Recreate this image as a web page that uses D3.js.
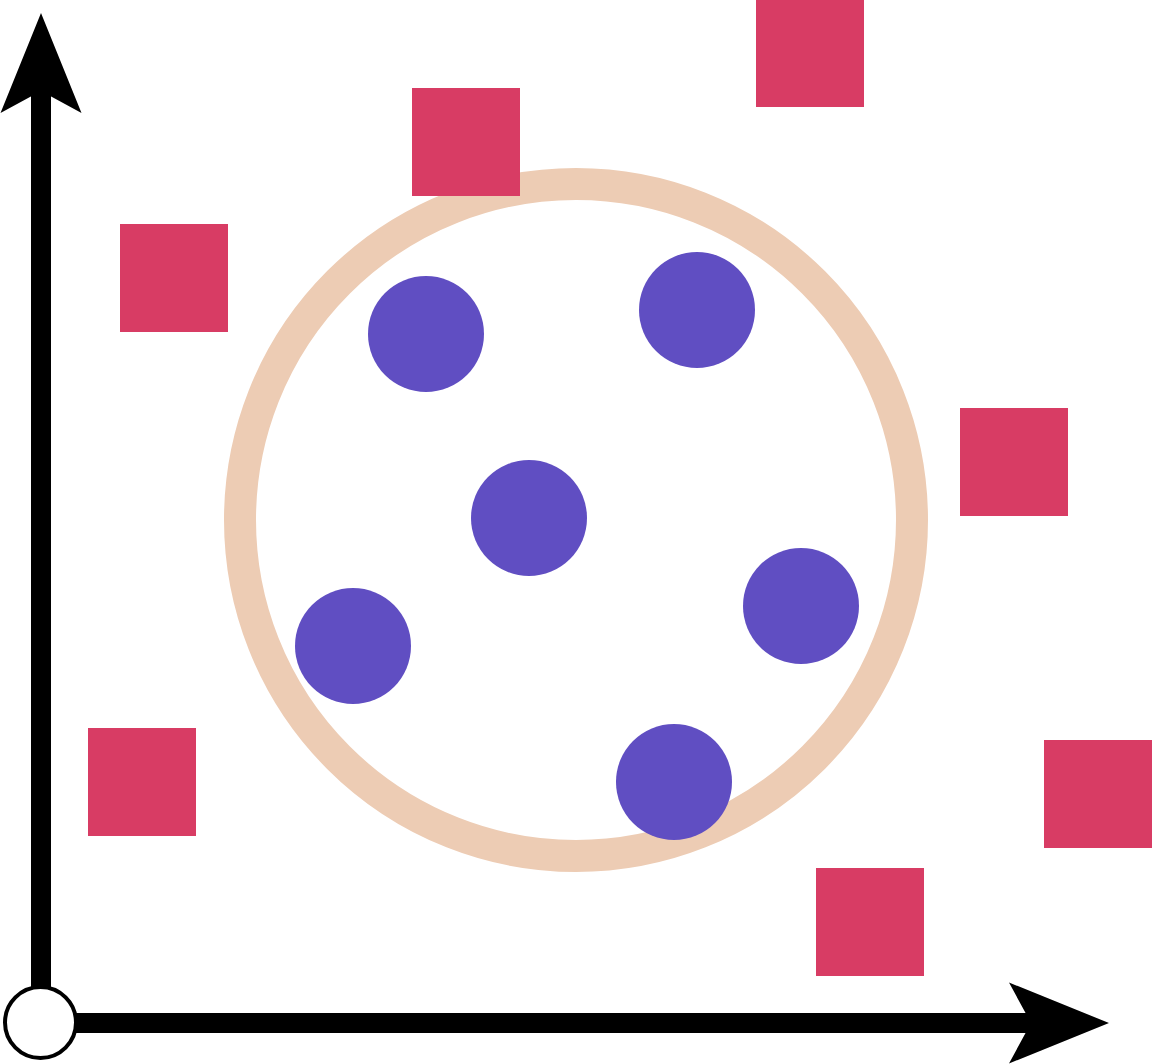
<!DOCTYPE html>
<html>
<head>
<meta charset="utf-8">
<script src="https://cdn.jsdelivr.net/npm/d3@7"></script>
<style>
  html, body { margin: 0; padding: 0; background: #fff; }
  svg { display: block; }
</style>
</head>
<body>
<script>
// values, in axis units (origin at the open circle)
const insideX = [38.5, 65.6, 48.8, 31.2, 76.0, 63.3];
const insideY = [68.9, 71.3, 50.5, 37.7, 41.7, 24.1];
const outsideX = [13.3, 42.5, 76.9, 97.3, 10.1, 105.7, 82.9];
const outsideY = [74.5, 88.1, 97.0, 56.1, 24.1, 22.9, 10.1];
const boundary = [53.5, 50.3, 33.6]; // cx, cy, r
const axisEnd = [106.8, 101];       // x tip, y tip

const width = 1152, height = 1064;

const svg = d3.select('body').append('svg')
    .attr('width', width)
    .attr('height', height);

const x = d3.scaleLinear().domain([0, 100]).range([41, 1041]);
const y = d3.scaleLinear().domain([0, 100]).range([1023, 23]);
const k = x(1) - x(0);

const inside = insideX.map((v, i) => ({x: v, y: insideY[i]}));
const outside = outsideX.map((v, i) => ({x: v, y: outsideY[i]}));

// boundary ring
svg.append('circle')
    .attr('cx', x(boundary[0]))
    .attr('cy', y(boundary[1]))
    .attr('r', boundary[2] * k)
    .style('fill', 'none')
    .style('stroke', '#edccb4')
    .style('stroke-width', 32);

// axes
const axes = svg.append('g').attr('class', 'axes');

axes.append('line')
    .attr('x1', x(0)).attr('y1', y(0))
    .attr('x2', x(0)).attr('y2', y(axisEnd[1]) + 60)
    .style('stroke', 'black')
    .style('stroke-width', 20);

axes.append('line')
    .attr('x1', x(0)).attr('y1', y(0))
    .attr('x2', x(axisEnd[0]) - 60).attr('y2', y(0))
    .style('stroke', 'black')
    .style('stroke-width', 20);

const arrowHead = (tx, ty, angle) => {
  // pointing right, then rotated
  const pts = [[0, 0], [-100, -40.5], [-78, 0], [-100, 40.5]];
  axes.append('path')
      .attr('d', d3.line()(pts) + 'Z')
      .attr('transform', `translate(${tx},${ty}) rotate(${angle})`)
      .style('fill', 'black');
};
arrowHead(x(axisEnd[0]), y(0), 0);
arrowHead(x(0), y(axisEnd[1]), -90);

axes.append('circle')
    .attr('cx', x(0) - 0.5)
    .attr('cy', y(0) - 0.5)
    .attr('r', 35.5)
    .style('fill', 'white')
    .style('stroke', 'black')
    .style('stroke-width', 4);

// outside points: squares
const side = 10.8 * k;
svg.selectAll('rect.outside')
    .data(outside)
    .enter()
    .append('rect')
    .classed('outside', true)
    .attr('x', (d) => x(d.x) - side / 2)
    .attr('y', (d) => y(d.y) - side / 2)
    .attr('width', side)
    .attr('height', side)
    .style('fill', '#d83c64');

// inside points: circles
svg.selectAll('circle.inside')
    .data(inside)
    .enter()
    .append('circle')
    .classed('inside', true)
    .attr('cx', (d) => x(d.x))
    .attr('cy', (d) => y(d.y))
    .attr('r', 5.8 * k)
    .style('fill', '#604ec2');
</script>
</body>
</html>
